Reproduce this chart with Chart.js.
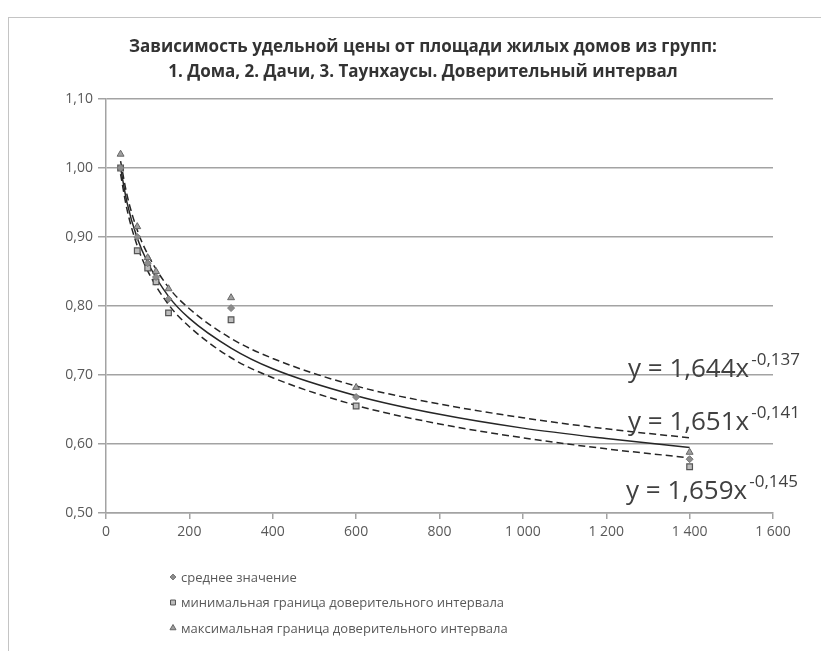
<!DOCTYPE html>
<html lang="ru">
<head>
<meta charset="utf-8">
<title>Зависимость удельной цены от площади</title>
<script src="https://cdn.jsdelivr.net/npm/chart.js@4.4.1/dist/chart.umd.min.js"></script>
<style>
	html, body { margin: 0; padding: 0; background: #fff; overflow: hidden; }
	#wrap { position: relative; width: 821px; height: 651px; }
	#frame { position: absolute; left: 8px; top: 17px; width: 900px; height: 700px; border: 1.5px solid #c4c4c4; }
	#myChart { position: absolute; left: 0; top: 0; }
</style>
</head>
<body>
<div id="wrap">
	<div id="frame"></div>
	<canvas id="myChart" width="821" height="651"></canvas>
</div>
<script>
// Точки групп (площадь, м2) и их значения
const areaX = [35, 75, 100, 120, 150, 300, 600, 1400];
const meanValues = [1.0, 0.9, 0.862, 0.842, 0.81, 0.797, 0.668, 0.578];
const minValues = [1.0, 0.88, 0.855, 0.835, 0.79, 0.78, 0.655, 0.567];
const maxValues = [1.02, 0.915, 0.87, 0.85, 0.825, 0.812, 0.682, 0.588];

// Линии тренда
const trendX = [35, 50, 75, 100, 150, 200, 300, 400, 600, 800, 1000, 1200, 1400];
const trendMean = [1.0, 0.951, 0.898, 0.863, 0.814, 0.782, 0.739, 0.709, 0.67, 0.643, 0.623, 0.608, 0.595];
const trendMax = [1.01, 0.962, 0.91, 0.875, 0.827, 0.796, 0.753, 0.724, 0.684, 0.658, 0.638, 0.622, 0.609];
const trendMin = [0.991, 0.941, 0.887, 0.851, 0.802, 0.77, 0.725, 0.696, 0.656, 0.629, 0.609, 0.593, 0.58];

const seriesLabels = [
	'среднее значение',
	'минимальная граница доверительного интервала',
	'максимальная граница доверительного интервала'
];
const equations = [
	['y = 1,644x', '-0,137'],
	['y = 1,651x', '-0,141'],
	['y = 1,659x', '-0,145']
];

const xTicks = [0, 200, 400, 600, 800, 1000, 1200, 1400, 1600];
const xTickLabels = ['0', '200', '400', '600', '800', '1 000', '1 200', '1 400', '1 600'];
const yTickLabels = ['0,50', '0,60', '0,70', '0,80', '0,90', '1,00', '1,10'];

const titleLines = [
	'Зависимость удельной цены от площади жилых домов из групп:',
	'1. Дома, 2. Дачи, 3. Таунхаусы. Доверительный интервал'
];

const gridColor = '#a3a3a3';
const textColor = '#595959';
const fontName = "'Open Sans', 'DejaVu Sans', sans-serif";

function ToDots(xs, ys) {
	return xs.map((x, i) => ({ x: x, y: ys[i] }));
}

function TrendSet(ys, dash) {
	return {
		data: ToDots(trendX, ys),
		showLine: true,
		borderColor: '#262626',
		borderWidth: 1.5,
		borderDash: dash,
		pointRadius: 0,
		cubicInterpolationMode: 'monotone',
		fill: false
	};
}

// Подписи уравнений и вертикальная легенда рисуются отдельно
const extraText = {
	id: 'extraText',
	afterDraw(chart) {
		const ctx = chart.ctx;
		const eqPlaces = [[628, 377], [628, 430], [626, 499]];
		ctx.save();
		ctx.fillStyle = '#404040';
		ctx.textBaseline = 'alphabetic';
		equations.forEach((eq, i) => {
			const [x, y] = eqPlaces[i];
			ctx.font = '26px ' + fontName;
			ctx.fillText(eq[0], x, y);
			const w = ctx.measureText(eq[0]).width;
			ctx.font = '17px ' + fontName;
			ctx.fillText(eq[1], x + w + 2, y - 12);
		});

		ctx.font = '13px ' + fontName;
		ctx.textBaseline = 'middle';
		for (let i = 0; i < 3; i++) {
			const ds = chart.data.datasets[i];
			const y = 577 + i * 25.5;
			ctx.fillStyle = ds.backgroundColor;
			ctx.strokeStyle = ds.borderColor;
			ctx.lineWidth = 1;
			Chart.helpers.drawPoint(ctx, { pointStyle: ds.pointStyle, radius: ds.pointRadius - 0.5, borderWidth: 1, rotation: 0 }, 173, y);
			ctx.fillStyle = textColor;
			ctx.fillText(ds.label, 181, y + 1);
		}
		ctx.restore();
	}
};

const ctx = document.getElementById('myChart').getContext('2d');

const chart = new Chart(ctx, {
	type: 'scatter',
	data: {
		datasets: [
			{
				label: seriesLabels[0],
				data: ToDots(areaX, meanValues),
				pointStyle: 'rectRot',
				pointRadius: 3.5,
				backgroundColor: '#8c8c8c',
				borderColor: '#7a7a7a',
				borderWidth: 1
			},
			{
				label: seriesLabels[1],
				data: ToDots(areaX, minValues),
				pointStyle: 'rect',
				pointRadius: 4,
				backgroundColor: '#bdbdbd',
				borderColor: '#555555',
				borderWidth: 1.2
			},
			{
				label: seriesLabels[2],
				data: ToDots(areaX, maxValues),
				pointStyle: 'triangle',
				pointRadius: 4,
				backgroundColor: '#a0a0a0',
				borderColor: '#666666',
				borderWidth: 1
			},
			TrendSet(trendMax, [7, 4]),
			TrendSet(trendMean, []),
			TrendSet(trendMin, [7, 4])
		]
	},
	options: {
		responsive: false,
		animation: false,
		layout: {
			// левый отступ сдвигает заголовок вправо, как в исходнике
			padding: { left: 25, right: 0, top: 0, bottom: 90 }
		},
		plugins: {
			legend: { display: false },
			tooltip: { enabled: false },
			title: {
				display: true,
				text: titleLines,
				color: '#333333',
				font: { family: fontName, size: 17, weight: 'bold', lineHeight: 1.47 },
				padding: { top: 35, bottom: 14 }
			}
		},
		scales: {
			x: {
				type: 'linear',
				min: 0,
				max: 1600,
				afterFit(scale) { scale.height = 48; },
				afterBuildTicks(scale) { scale.ticks = xTicks.map(v => ({ value: v })); },
				ticks: {
					color: textColor,
					font: { family: fontName, size: 14 },
					padding: 5,
					maxRotation: 0,
					callback: v => xTickLabels[xTicks.indexOf(v)]
				},
				grid: { drawOnChartArea: false, color: gridColor, lineWidth: 1.5, tickLength: 6 },
				border: { color: gridColor, width: 1.5 }
			},
			y: {
				min: 0.5,
				max: 1.1,
				afterFit(scale) { scale.width = 81; },
				ticks: {
					stepSize: 0.1,
					color: textColor,
					font: { family: fontName, size: 14 },
					padding: 5,
					callback: (v, i) => yTickLabels[i]
				},
				grid: { color: gridColor, lineWidth: 1.5, tickLength: 8 },
				border: { color: gridColor, width: 1.5 }
			},
			// пустая правая ось держит место под подписи уравнений
			yRight: {
				axis: 'y',
				position: 'right',
				min: 0.5,
				max: 1.1,
				afterFit(scale) { scale.width = 48; },
				ticks: { display: false },
				grid: { display: false, drawTicks: false },
				border: { display: false }
			}
		}
	},
	plugins: [extraText]
});
</script>
</body>
</html>
